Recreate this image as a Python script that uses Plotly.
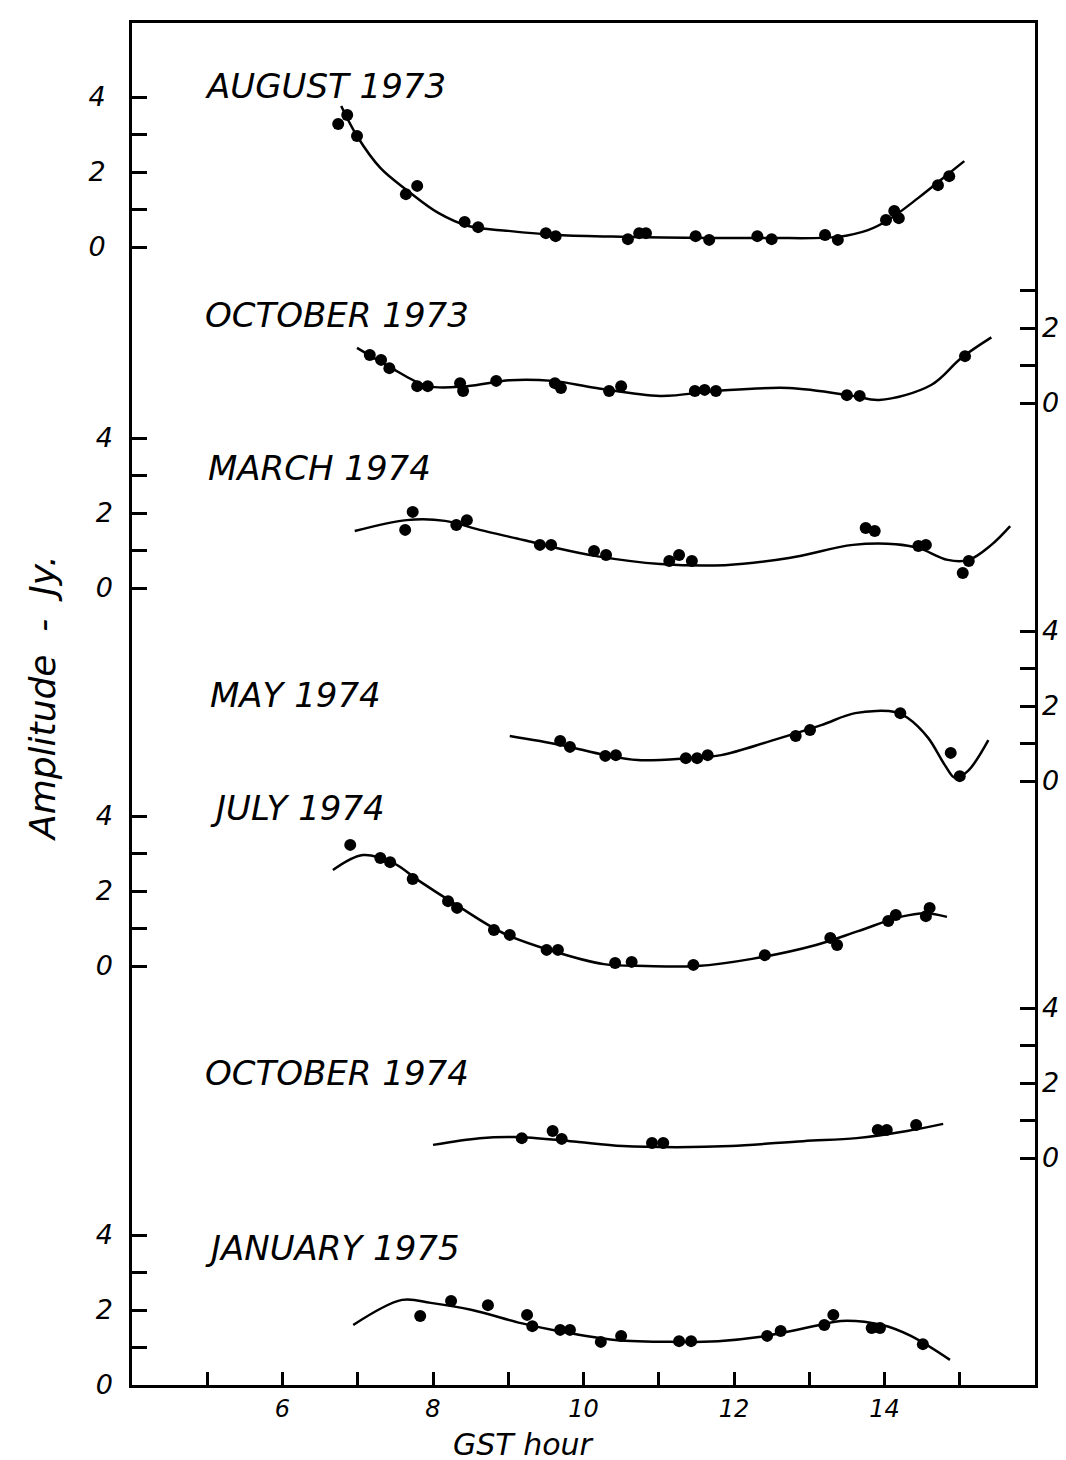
import plotly.graph_objects as go

# ---------------- data (GST hour, amplitude in Jy) ----------------
# AUGUST 1973
aug73_x = [6.86, 6.74, 6.99, 7.64, 7.79, 8.42, 8.60, 9.50, 9.63, 10.59, 10.74, 10.83,
           11.49, 11.67, 12.31, 12.50, 13.21, 13.38, 14.02, 14.13, 14.19, 14.71, 14.86]
aug73_y = [3.52, 3.28, 2.96, 1.41, 1.63, 0.67, 0.53, 0.37, 0.29, 0.21, 0.37, 0.37,
           0.29, 0.19, 0.29, 0.21, 0.32, 0.19, 0.72, 0.96, 0.77, 1.65, 1.89]
aug73_fx = [6.78, 6.99, 7.30, 7.67, 8.07, 8.47, 9.00, 9.66, 10.59, 11.65, 12.45, 13.38,
            13.78, 14.05, 14.45, 14.78, 15.06]
aug73_fy = [3.76, 2.96, 2.11, 1.49, 0.91, 0.56, 0.43, 0.32, 0.27, 0.24, 0.24, 0.27,
            0.45, 0.72, 1.31, 1.84, 2.29]

# OCTOBER 1973
oct73_x = [7.16, 7.31, 7.42, 7.79, 7.93, 8.36, 8.40, 8.84, 9.62, 9.70, 10.34, 10.50,
           11.48, 11.61, 11.76, 13.50, 13.67, 15.07]
oct73_y = [1.28, 1.15, 0.93, 0.45, 0.45, 0.53, 0.32, 0.59, 0.53, 0.40, 0.32, 0.45,
           0.32, 0.35, 0.32, 0.21, 0.19, 1.25]
oct73_fx = [6.99, 7.40, 7.93, 8.45, 9.02, 9.59, 10.17, 11.02, 11.76, 12.73, 13.58, 13.93,
            14.62, 15.02, 15.42]
oct73_fy = [1.47, 0.99, 0.45, 0.45, 0.61, 0.59, 0.40, 0.19, 0.32, 0.40, 0.19, 0.08,
            0.48, 1.20, 1.75]

# MARCH 1974
mar74_x = [7.73, 7.63, 8.45, 8.31, 9.42, 9.57, 10.14, 10.30, 11.14, 11.27, 11.44,
           13.75, 13.87, 14.45, 14.55, 15.12, 15.04]
mar74_y = [2.03, 1.55, 1.81, 1.68, 1.15, 1.15, 0.99, 0.88, 0.72, 0.88, 0.72,
           1.60, 1.52, 1.12, 1.15, 0.72, 0.40]
mar74_fx = [6.96, 7.65, 8.16, 8.62, 9.20, 9.59, 10.17, 11.02, 11.88, 12.73, 13.58, 14.15,
            14.45, 14.84, 15.12, 15.42, 15.67]
mar74_fy = [1.52, 1.81, 1.79, 1.55, 1.28, 1.09, 0.85, 0.64, 0.61, 0.80, 1.15, 1.17,
            1.07, 0.75, 0.75, 1.15, 1.65]

# MAY 1974
may74_x = [9.69, 9.82, 10.29, 10.43, 11.36, 11.51, 11.65, 12.82, 13.01, 14.21, 14.88, 15.00]
may74_y = [1.07, 0.91, 0.67, 0.69, 0.61, 0.61, 0.69, 1.20, 1.36, 1.81, 0.75, 0.13]
may74_fx = [9.02, 9.70, 10.29, 10.72, 11.39, 11.83, 12.49, 13.16, 13.61, 14.14, 14.31,
            14.58, 14.80, 14.94, 15.11, 15.38]
may74_fy = [1.20, 0.96, 0.69, 0.56, 0.61, 0.69, 1.07, 1.49, 1.81, 1.84, 1.68,
            1.15, 0.43, 0.08, 0.27, 1.09]

# JULY 1974
jul74_x = [6.90, 7.30, 7.43, 7.73, 8.20, 8.32, 8.81, 9.02, 9.51, 9.66, 10.42, 10.64,
           11.46, 12.41, 13.28, 13.37, 14.05, 14.15, 14.60, 14.55]
jul74_y = [3.23, 2.88, 2.77, 2.32, 1.73, 1.55, 0.96, 0.83, 0.43, 0.43, 0.08, 0.11,
           0.03, 0.29, 0.75, 0.56, 1.20, 1.36, 1.55, 1.33]
jul74_fx = [6.67, 7.07, 7.47, 7.80, 8.31, 8.93, 9.59, 10.27, 10.83, 11.51, 12.24, 13.09,
            13.65, 14.21, 14.55, 14.83]
jul74_fy = [2.56, 2.96, 2.75, 2.29, 1.63, 0.88, 0.40, 0.05, 0.00, 0.00, 0.19, 0.56,
            0.93, 1.31, 1.41, 1.31]

# OCTOBER 1974
oct74_x = [9.18, 9.59, 9.71, 10.91, 11.06, 13.91, 14.03, 14.42]
oct74_y = [0.53, 0.72, 0.51, 0.40, 0.40, 0.75, 0.75, 0.88]
oct74_fx = [8.00, 8.62, 9.10, 9.82, 10.52, 11.24, 11.96, 12.92, 13.63, 14.30, 14.78]
oct74_fy = [0.35, 0.53, 0.56, 0.45, 0.32, 0.29, 0.32, 0.45, 0.53, 0.72, 0.91]

# JANUARY 1975
jan75_x = [7.83, 8.24, 8.73, 9.25, 9.32, 9.69, 9.82, 10.23, 10.50, 11.27, 11.43,
           12.44, 12.62, 13.20, 13.32, 13.83, 13.94, 14.51]
jan75_y = [1.84, 2.24, 2.13, 1.87, 1.57, 1.47, 1.47, 1.15, 1.31, 1.17, 1.17,
           1.31, 1.44, 1.60, 1.87, 1.52, 1.52, 1.09]
jan75_fx = [6.94, 7.59, 7.97, 8.52, 9.17, 9.66, 10.42, 11.24, 11.79, 12.33, 13.14, 13.42,
            13.97, 14.35, 14.87]
jan75_fy = [1.60, 2.27, 2.19, 2.00, 1.65, 1.44, 1.20, 1.15, 1.17, 1.28, 1.60, 1.71,
            1.60, 1.31, 0.67]

x_tickvals = [5, 6, 7, 8, 9, 10, 11, 12, 13, 14, 15]
x_ticktext = ["", "6", "", "8", "", "10", "", "12", "", "14", ""]

panel_titles = ["AUGUST 1973", "OCTOBER 1973", "MARCH 1974", "MAY 1974",
                "JULY 1974", "OCTOBER 1974", "JANUARY 1975"]

# ---------------- layout configuration ----------------
W, H = 1066, 1460
ML, MR, MT, MB = 124, 39, 15, 83
PLOT_TOP = MT
PLOT_BOT = H - MB
PX_PER_JY = 37.5

panels = [
    dict(px=aug73_x, py=aug73_y, fx=aug73_fx, fy=aug73_fy, side="left",  zero=239,  ticks=[0, 1, 2, 3, 4], tx=4.94, ty=4.29),
    dict(px=oct73_x, py=oct73_y, fx=oct73_fx, fy=oct73_fy, side="right", zero=395,  ticks=[0, 1, 2, 3],    tx=4.94, ty=2.35),
    dict(px=mar74_x, py=mar74_y, fx=mar74_fx, fy=mar74_fy, side="left",  zero=580,  ticks=[0, 1, 2, 3, 4], tx=4.98, ty=3.20),
    dict(px=may74_x, py=may74_y, fx=may74_fx, fy=may74_fy, side="right", zero=773,  ticks=[0, 1, 2, 3, 4], tx=5.01, ty=2.29),
    dict(px=jul74_x, py=jul74_y, fx=jul74_fx, fy=jul74_fy, side="left",  zero=958,  ticks=[0, 1, 2, 3, 4], tx=5.01, ty=4.21),
    dict(px=oct74_x, py=oct74_y, fx=oct74_fx, fy=oct74_fy, side="right", zero=1150, ticks=[0, 1, 2, 3, 4], tx=4.94, ty=2.27),
    dict(px=jan75_x, py=jan75_y, fx=jan75_fx, fy=jan75_fy, side="left",  zero=1377, ticks=[0, 1, 2, 3, 4], tx=4.94, ty=3.65),
]

FONT = "DejaVu Sans"
tick_font = dict(family=FONT, size=27, color="black", style="italic")
xtick_font = dict(family=FONT, size=24, color="black", style="italic")
title_font = dict(family=FONT, size=34, color="black", style="italic")

fig = go.Figure()
annotations = []
for i, p in enumerate(panels):
    yname = "y" if i == 0 else f"y{i + 1}"
    axkey = "yaxis" if i == 0 else f"yaxis{i + 1}"
    fig.add_trace(go.Scatter(
        x=p["fx"], y=p["fy"], mode="lines", yaxis=yname,
        line=dict(color="black", width=2.5, shape="spline", smoothing=1.0),
        hoverinfo="skip", showlegend=False))
    fig.add_trace(go.Scatter(
        x=p["px"], y=p["py"], mode="markers", yaxis=yname,
        marker=dict(color="black", size=12), showlegend=False))
    ax = dict(
        range=[(p["zero"] - PLOT_BOT) / PX_PER_JY, (p["zero"] - PLOT_TOP) / PX_PER_JY],
        side=p["side"],
        tickvals=p["ticks"],
        ticktext=[str(v) if v % 2 == 0 else "" for v in p["ticks"]],
        ticks="inside", ticklen=15, tickwidth=2.5, tickcolor="black",
        showgrid=False, zeroline=False, fixedrange=True,
        tickfont=tick_font,
        ticklabelstandoff=18 if p["side"] == "left" else 6,
    )
    if i == 0:
        ax.update(showline=True, mirror=True, linecolor="black", linewidth=3)
    else:
        ax.update(overlaying="y", showline=False)
    fig.layout[axkey] = ax
    annotations.append(dict(
        text=panel_titles[i], x=p["tx"], y=p["ty"], xref="x", yref=yname,
        xanchor="left", yanchor="middle", showarrow=False, font=title_font))

annotations.append(dict(
    text="Amplitude  -  Jy.", xref="paper", yref="paper",
    x=(34 - ML) / (W - ML - MR), y=(PLOT_BOT - 690) / (PLOT_BOT - PLOT_TOP),
    xanchor="center", yanchor="middle", textangle=-90, showarrow=False,
    font=dict(family=FONT, size=36, color="black", style="italic")))
annotations.append(dict(
    text="GST hour", xref="paper", yref="paper",
    x=(515 - ML) / (W - ML - MR), y=(PLOT_BOT - 1436) / (PLOT_BOT - PLOT_TOP),
    xanchor="center", yanchor="middle", showarrow=False,
    font=dict(family=FONT, size=30, color="black", style="italic")))

fig.update_layout(
    width=W, height=H,
    margin=dict(l=ML, r=MR, t=MT, b=MB, pad=0),
    paper_bgcolor="white", plot_bgcolor="white",
    showlegend=False,
    annotations=annotations,
    xaxis=dict(
        range=[4, 16], tickvals=x_tickvals, ticktext=x_ticktext,
        ticks="inside", ticklen=13, tickwidth=2.5, tickcolor="black",
        showline=True, mirror=True, linecolor="black", linewidth=3,
        showgrid=False, zeroline=False, fixedrange=True,
        tickfont=xtick_font, ticklabelstandoff=0,
    ),
)

fig.write_html("out.html")
